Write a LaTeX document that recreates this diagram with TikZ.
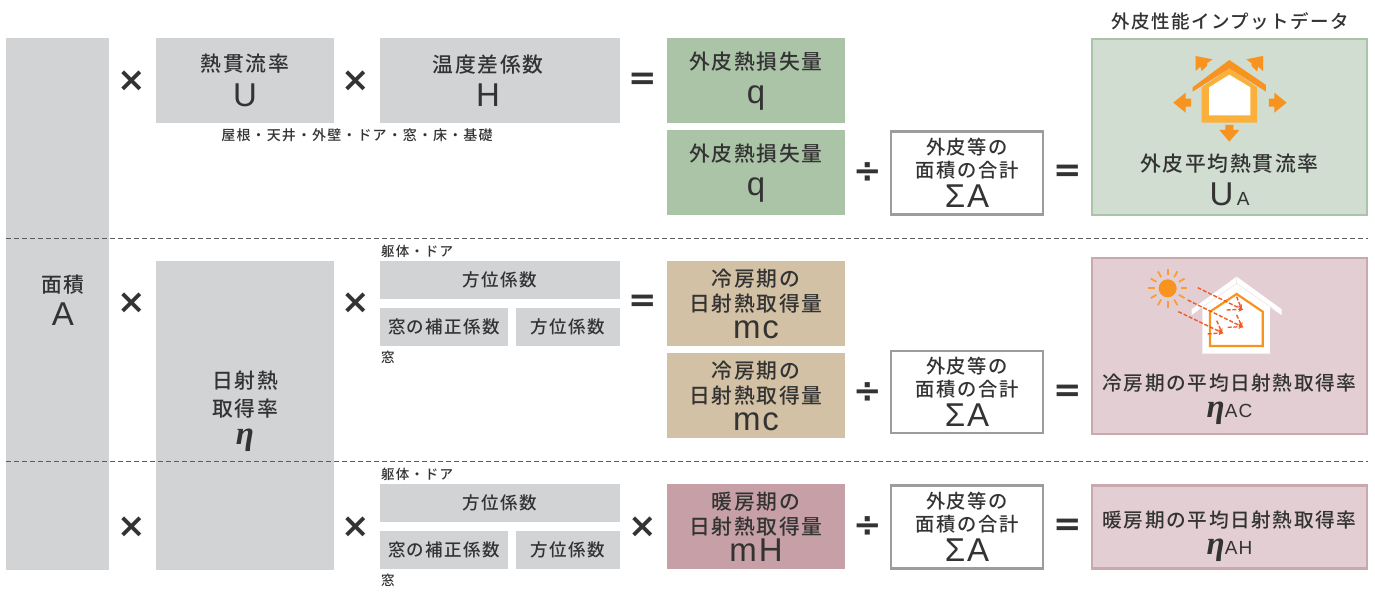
\documentclass[tikz,border=0pt]{standalone}
\usepackage{fontspec}
\setmainfont[LetterSpace=8]{Noto Sans CJK JP Medium}
\newfontfamily\opfont{DejaVu Sans}
\newfontfamily\etafont{Liberation Serif}
\newfontfamily\letterfont[LetterSpace=6]{Liberation Sans}
\usetikzlibrary{arrows.meta}
\newcommand{\fs}[2]{\fontsize{#1}{#2}\selectfont}
\newcommand{\bigL}[1]{{\letterfont\fs{33}{31}#1}}
\newcommand{\etaL}{{\etafont\fs{33}{30}\bfseries\itshape η}}
\newcommand{\subL}[1]{{\letterfont\fs{19}{18}#1}}
\definecolor{ink}{HTML}{333333}
\definecolor{panel}{HTML}{D1D3D4}
\definecolor{greenbox}{HTML}{ABC4A7}
\definecolor{tanbox}{HTML}{D3C1A5}
\definecolor{mauvebox}{HTML}{C6A0A6}
\definecolor{uafill}{HTML}{D0DDD0}
\definecolor{pinkfill}{HTML}{E3CFD3}
\definecolor{pinkline}{HTML}{C9A8AE}
\definecolor{sumline}{HTML}{9A9C9E}
\definecolor{orA}{HTML}{F7931E}
\definecolor{orB}{HTML}{FBB03B}
\definecolor{ray}{HTML}{F15A29}
\tikzset{
  box/.style={rectangle,inner sep=0pt,outer sep=0pt,align=center,text=ink,font=\fs{20.8}{24.5}},
  grayb/.style={box,fill=panel},
  small/.style={box,font=\fs{17.5}{22}},
  note/.style={inner sep=0pt,text=ink,font=\fs{13.5}{15}},
  opsym/.style={inner sep=0pt,text=ink,font=\opfont\bfseries\fs{34}{34}},
  sumbox/.style={box,fill=white,draw=sumline,line width=2.4pt,font=\fs{19.3}{23}},
  sepline/.style={dashed,draw=ink!80,line width=.7pt,dash pattern=on 4.5pt off 3.5pt},
  solarray/.style={ray,line width=1.4pt,dash pattern=on 4pt off 1.8pt,-{Stealth[length=5pt,width=4.5pt]}},
}
\begin{document}
\begin{tikzpicture}[x=1pt,y=-1pt]
\useasboundingbox (0,0) rectangle (1375,612);
\fill[white] (0,0) rectangle (1375,612);

% ---- boxes: centre, width, height in px
\node[grayb,minimum width=103pt,minimum height=532pt] (area) at (57.5,304) {};
\node[box] (areat) at (63,300) {面積\\[8pt]\bigL{A}};

\node[grayb,minimum width=178pt,minimum height=85pt] (u) at (245,80.5) {};
\node[box] (ut) at (245,80.5) {熱貫流率\\[9pt]\bigL{U}};
\node[grayb,minimum width=240pt,minimum height=85pt] (h) at (500,80.5) {};
\node[box] (ht) at (488,80.5) {温度差係数\\[9pt]\bigL{H}};
\node[box,fill=greenbox,minimum width=178pt,minimum height=85pt] (q1) at (756,80.5) {};
\node[box] (q1t) at (756,81) {外皮熱損失量\\[9pt]\bigL{q}};
\node[box,fill=greenbox,minimum width=178pt,minimum height=85pt] (q2) at (756,172.5) {};
\node[box] (q2t) at (756,173) {外皮熱損失量\\[9pt]\bigL{q}};
\node[sumbox,minimum width=152pt,minimum height=83pt] (s1) at (967,173) {外皮等の\\面積の合計\\[5pt]\bigL{ΣA}};
\node[box,fill=uafill,draw=greenbox,line width=2.4pt,minimum width=275pt,minimum height=176pt] (ua) at (1229.5,127) {};
\node[box] (uat) at (1229.5,180) {外皮平均熱貫流率\\[9pt]\bigL{U}\,\subL{A}};
\node[inner sep=0pt,text=ink,font=\fs{18.5}{20}] (title) at (1230,21) {外皮性能インプットデータ};
\node[note,font=\fs{14}{15}] (n1) at (357,135) {屋根・天井・外壁・ドア・窓・床・基礎};

\node[grayb,minimum width=178pt,minimum height=309pt] (eta) at (245,415.5) {};
\node[box,font=\fs{20.8}{28}] (etat) at (245,411) {日射熱\\取得率\\\etaL};

\node[note,anchor=west] (n2) at (381,251) {躯体・ドア};
\node[small,fill=panel,minimum width=240pt,minimum height=38pt] (d1) at (500,280) {方位係数};
\node[small,fill=panel,minimum width=128pt,minimum height=38pt] (w1) at (444,327) {窓の補正係数};
\node[small,fill=panel,minimum width=104pt,minimum height=38pt] (a1) at (568,327) {方位係数};
\node[note,anchor=west] (n3) at (381,357) {窓};

\node[box,fill=tanbox,minimum width=178pt,minimum height=85pt] (mc1) at (756,303.5) {};
\node[box] (mc1t) at (756,304) {冷房期の\\日射熱取得量\\[3pt]\bigL{mc}};
\node[box,fill=tanbox,minimum width=178pt,minimum height=85pt] (mc2) at (756,395.5) {};
\node[box] (mc2t) at (756,396) {冷房期の\\日射熱取得量\\[3pt]\bigL{mc}};
\node[sumbox,minimum width=152pt,minimum height=82pt] (s2) at (967,392) {外皮等の\\面積の合計\\[5pt]\bigL{ΣA}};
\node[box,fill=pinkfill,draw=pinkline,line width=2.4pt,minimum width=275pt,minimum height=176pt] (ac) at (1229.5,346) {};
\node[box,font=\fs{19.7}{27}] (act) at (1229.5,399) {冷房期の平均日射熱取得率\\\etaL\subL{AC}};

\node[note,anchor=west] (n4) at (381,474) {躯体・ドア};
\node[small,fill=panel,minimum width=240pt,minimum height=38pt] (d2) at (500,503) {方位係数};
\node[small,fill=panel,minimum width=128pt,minimum height=38pt] (w2) at (444,550) {窓の補正係数};
\node[small,fill=panel,minimum width=104pt,minimum height=38pt] (a2) at (568,550) {方位係数};
\node[note,anchor=west] (n5) at (381,580) {窓};

\node[box,fill=mauvebox,minimum width=178pt,minimum height=85pt] (mh) at (756,526.5) {};
\node[box] (mht) at (756,527) {暖房期の\\日射熱取得量\\[3pt]\bigL{mH}};
\node[sumbox,minimum width=152pt,minimum height=83pt] (s3) at (967,527) {外皮等の\\面積の合計\\[5pt]\bigL{ΣA}};
\node[box,fill=pinkfill,draw=pinkline,line width=2.4pt,minimum width=275pt,minimum height=83pt] (ah) at (1229.5,527) {};
\node[box,font=\fs{19.7}{27}] (aht) at (1229.5,536) {暖房期の平均日射熱取得率\\\etaL\subL{AH}};

% ---- operators
\node[opsym] (x1) at (132,81) {×};
\node[opsym] (x2) at (356,81) {×};
\node[opsym] (e1) at (643,81) {=};
\node[opsym] (div1) at (868,173) {÷};
\node[opsym] (e2) at (1068,173) {=};
\node[opsym] (x3) at (132,303) {×};
\node[opsym] (x4) at (356,303) {×};
\node[opsym] (e3) at (643,303) {=};
\node[opsym] (div2) at (868,393) {÷};
\node[opsym] (e4) at (1068,393) {=};
\node[opsym] (x5) at (132,527) {×};
\node[opsym] (x6) at (356,527) {×};
\node[opsym] (x7) at (643,527) {×};
\node[opsym] (div3) at (868,527) {÷};
\node[opsym] (e5) at (1068,527) {=};

% ---- separators
\coordinate (sa) at (6,238); \coordinate (sb) at (1368,238);
\coordinate (sc) at (6,461); \coordinate (sd) at (1368,461);
\draw[sepline] (sa) -- (sb);
\draw[sepline] (sc) -- (sd);

% ---- heat-loss house icon (coordinates in 3x zoom units)
\begin{scope}[shift={(1085,0)},x=.3333pt,y=-.3333pt]
  \fill[orB] (350,368) -- (516,368) -- (516,262) -- (433,205) -- (350,262) -- cycle;
  \fill[white] (372,346) -- (496,346) -- (496,262) -- (433,224) -- (372,262) -- cycle;
  \fill[orA] (323,262) -- (433,180) -- (543,255) -- (543,275) -- (433,205) -- (323,275) -- cycle;
  \fill[orA] (265,308) -- (302,278) -- (302,296) -- (318,296) -- (318,320) -- (302,320) -- (302,338) -- cycle;
  \fill[orA] (605,308) -- (568,278) -- (568,296) -- (552,296) -- (552,320) -- (568,320) -- (568,338) -- cycle;
  \fill[orA] (433,425) -- (403,390) -- (421,390) -- (421,375) -- (445,375) -- (445,390) -- (463,390) -- cycle;
  \fill[orA] (332,168) -- (382,178) -- (366,190) -- (366,198) -- (350,214) -- (346,200) -- (332,213) -- cycle;
  \fill[orA] (534,168) -- (484,178) -- (500,190) -- (500,198) -- (516,214) -- (520,200) -- (534,213) -- cycle;
\end{scope}

% ---- solar gain icon
\begin{scope}[shift={(1085,250)},x=.3333pt,y=-.3333pt]
  \fill[orA] (248,115) circle[radius=9pt];
  \foreach \a in {0,30,...,330}
    \draw[orA!90!white,line width=1.8pt] (248,115) ++(\a:13pt) -- ++(\a:6.5pt);
  \fill[white] (455,80) -- (590,178) -- (590,195) -- (555,172) -- (555,311) -- (352,311) -- (352,172) -- (320,195) -- (320,178) -- cycle;
  \draw[black!12,line width=.4pt] (340,180) -- (455,100) -- (570,180) (455,80) -- (455,100);
  \draw[orA,line width=2.2pt,line join=miter] (375,288) -- (533,288) -- (533,185) -- (455,132) -- (375,185) -- cycle;
  \draw[solarray] (338,113) -- (475,180);
  \draw[solarray] (308,150) -- (475,232);
  \draw[solarray] (280,185) -- (415,250);
  \draw[solarray] (455,140) -- (470,178);
  \draw[solarray] (425,180) -- (475,178);
  \draw[solarray] (455,195) -- (472,232);
  \draw[solarray] (428,232) -- (475,230);
  \draw[solarray] (395,212) -- (412,250);
  \draw[solarray] (368,252) -- (415,248);
\end{scope}
\end{tikzpicture}
\end{document}
